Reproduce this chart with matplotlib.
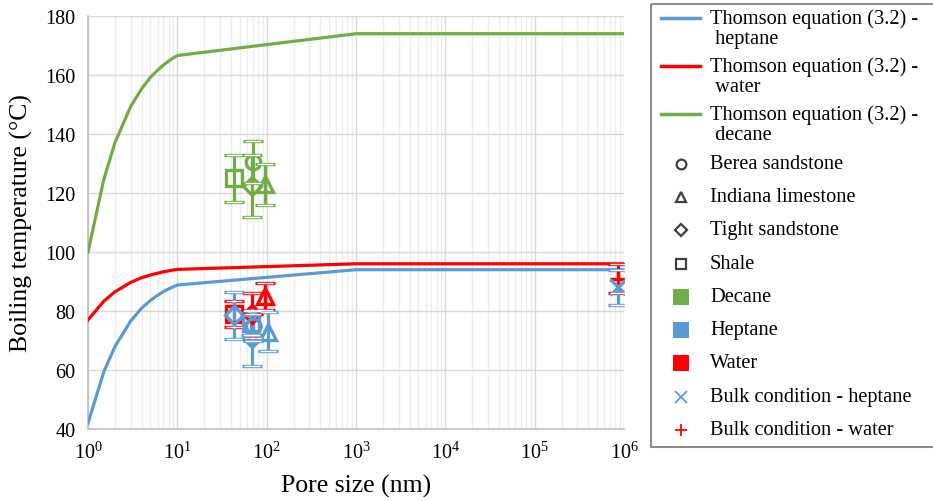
import matplotlib
matplotlib.use("Agg")
import matplotlib.pyplot as plt
from matplotlib.lines import Line2D
from matplotlib.patches import Rectangle
from matplotlib.ticker import NullFormatter

plt.rcParams["font.family"] = ["Liberation Serif", "DejaVu Serif"]
plt.rcParams["mathtext.fontset"] = "stix"

BLUE = "#5B9BD5"
RED = "#FF0000"
GREEN = "#70AD47"

# Thomson equation curves (pore size in nm -> boiling temperature in C)
pore_curve = [1, 1.5, 2, 3, 4, 5, 6, 7, 8, 9, 10, 1000, 1000000]
heptane_curve = [42, 59.3, 67.9, 76.6, 81.0, 83.6, 85.3, 86.6, 87.5, 88.2, 88.8, 94, 94]
water_curve = [77, 83.3, 86.5, 89.7, 91.3, 92.2, 92.8, 93.3, 93.6, 93.9, 94.1, 96, 96]
decane_curve = [100, 124.5, 137, 149.3, 155.4, 159.2, 161.6, 163.4, 164.7, 165.8, 166.6, 174, 174]

# measured points: (pore size, temperature, error)
decane_berea = ([70], [130.5], [7])
decane_indiana = ([97], [123], [7])
decane_tight = ([68], [122.5], [10.5])
decane_shale = ([43], [125], [8])

water_berea = ([70], [75], [4])
water_indiana = ([97], [85], [4.5])
water_tight = ([68], [79], [7])
water_shale = ([43], [79], [4.5])

heptane_berea = ([70], [75], [5])
heptane_indiana = ([103], [73], [6.5])
heptane_tight = ([43, 68], [78.5, 71], [8, 9.5])
heptane_shale = ([66], [76], [4])

bulk_heptane = ([850000], [88], [6])
bulk_water = ([850000], [91], [5])

legend_labels = [
    "Thomson equation (3.2) -\n heptane",
    "Thomson equation (3.2) -\n water",
    "Thomson equation (3.2) -\n decane",
    "Berea sandstone",
    "Indiana limestone",
    "Tight sandstone",
    "Shale",
    "Decane",
    "Heptane",
    "Water",
    "Bulk condition - heptane",
    "Bulk condition - water",
]


def point_series(ax, data, color, marker, ms=10):
    x, y, err = data
    ax.errorbar(x, y, yerr=err, fmt=marker, color=color, mfc="none", mec=color,
                ms=ms, mew=2.4, elinewidth=2.3, capsize=7.2, capthick=4.8, zorder=4)
    # hollow look of the caps
    ax.errorbar(x, y, yerr=err, fmt="none", ecolor="white", elinewidth=0,
                capsize=5.5, capthick=1.0, zorder=5)


fig = plt.figure(figsize=(9.33, 5.02), dpi=100)
ax = fig.add_axes([88 / 933, 1 - 430 / 502, (624 - 88) / 933, (430 - 17) / 502])

ax.plot(pore_curve, heptane_curve, color=BLUE, lw=2.3, zorder=3)
ax.plot(pore_curve, water_curve, color=RED, lw=2.3, zorder=3)
ax.plot(pore_curve, decane_curve, color=GREEN, lw=2.3, zorder=3)

for data, marker, ms in [(decane_shale, "s", 11.5), (decane_berea, "o", 10.5),
                         (decane_tight, "D", 9.5), (decane_indiana, "^", 11.5)]:
    point_series(ax, data, GREEN, marker, ms)
for data, marker, ms in [(water_shale, "s", 11.5), (water_berea, "o", 10.5),
                         (water_tight, "D", 9.5), (water_indiana, "^", 11.5)]:
    point_series(ax, data, RED, marker, ms)
for data, marker, ms in [(heptane_shale, "s", 11.5), (heptane_berea, "o", 10.5),
                         (heptane_tight, "D", 9.5), (heptane_indiana, "^", 11.5)]:
    point_series(ax, data, BLUE, marker, ms)

point_series(ax, bulk_water, RED, "+", 12)
point_series(ax, bulk_heptane, BLUE, "x", 11)

ax.set_xscale("log")
ax.set_xlim(1, 1e6)
ax.set_ylim(40, 180)
ax.set_yticks(range(40, 181, 20))
ax.xaxis.set_minor_formatter(NullFormatter())
ax.grid(True, which="major", color="#D9D9D9", lw=1.0, zorder=0)
ax.grid(True, which="minor", axis="x", color="#EDEDED", lw=1.0, zorder=0)
ax.tick_params(which="both", length=0, labelsize=14.5)
ax.tick_params(axis="x", pad=9)
ax.tick_params(axis="y", pad=9)
for side in ["top", "right"]:
    ax.spines[side].set_visible(False)
for side in ["left", "bottom"]:
    ax.spines[side].set_color("#BFBFBF")
    ax.spines[side].set_linewidth(1.2)

ax.set_xlabel("Pore size (nm)", fontsize=18.5, labelpad=8)
ax.set_ylabel("Boiling temperature (°C)", fontsize=18.5, labelpad=9)

# legend drawn in pixel coordinates on an overlay
lay = fig.add_axes([0, 0, 1, 1], zorder=10)
lay.set_xlim(0, 933)
lay.set_ylim(502, 0)
lay.axis("off")
lay.add_patch(Rectangle((651, 5), 300, 443, fill=False, ec="#8C8C8C", lw=1.5, clip_on=False))

grey = "#404040"
legend_styles = [
    dict(color=BLUE, lw=2.5),
    dict(color=RED, lw=2.5),
    dict(color=GREEN, lw=2.5),
    dict(marker="o", mfc="none", mec=grey, ms=7, mew=1.6),
    dict(marker="^", mfc="none", mec=grey, ms=7, mew=1.6),
    dict(marker="D", mfc="none", mec=grey, ms=6, mew=1.6),
    dict(marker="s", mfc="none", mec=grey, ms=7, mew=1.6),
    dict(marker="s", color=GREEN, ms=11, mew=0),
    dict(marker="s", color=BLUE, ms=11, mew=0),
    dict(marker="s", color=RED, ms=11, mew=0),
    dict(marker="x", color=BLUE, ms=8, mew=1.3),
    dict(marker="+", color=RED, ms=9, mew=1.3),
]
row_y = [19, 67, 115, 165, 198, 231, 265, 298, 331, 364, 398, 431]
for y, style, label in zip(row_y, legend_styles, legend_labels):
    if "marker" in style:
        lay.plot([681], [y], ls="none", **style)
    else:
        lay.plot([661, 700], [y, y], **style)
    lay.text(710, y - 10, label, fontsize=14.7, va="top", ha="left", linespacing=1.1)

fig.savefig("out.png", dpi=100)
